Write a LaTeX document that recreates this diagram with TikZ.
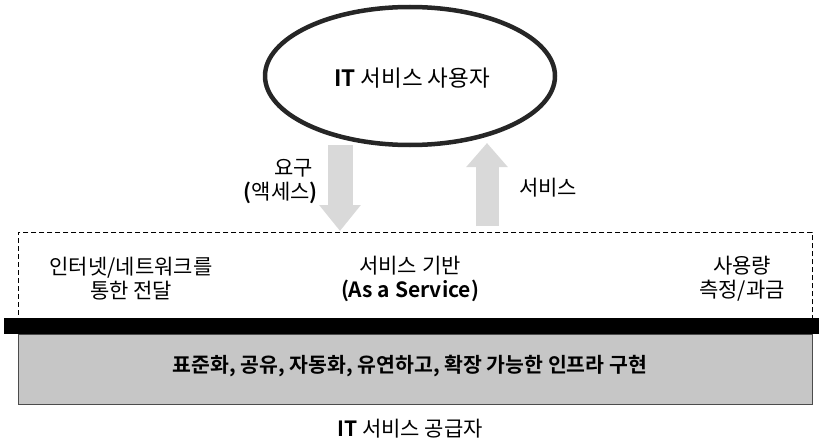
\documentclass[tikz,border=0pt]{standalone}
\usepackage{fontspec}
\setmainfont{Noto Sans CJK KR}[BoldFont={Noto Sans CJK KR Bold}]
\usetikzlibrary{arrows.meta,shapes.geometric}
\tikzset{
  txt/.style={inner sep=0pt, font=\fontsize{21}{24}\selectfont, align=center},
}
\begin{document}
\begin{tikzpicture}[x=1pt,y=-1pt]
\useasboundingbox (0,0) rectangle (819,444);
% user ellipse
\node[ellipse, draw=black!85, line width=4.5pt, minimum width=290pt, minimum height=138pt, inner sep=0pt] (user) at (410,76) {};
\node[txt, font=\fontsize{22.5}{26}\selectfont] (usertxt) at (412,78) {\textbf{IT} 서비스 사용자};
% dashed frame
\node[draw, line width=0.9pt, dash pattern=on 5pt off 3pt, minimum width=794pt, minimum height=86pt, inner sep=0pt, anchor=north west] (frame) at (18,232) {};
% black bar
\fill[black] (4,318) rectangle (819,334);
% grey infra box
\node[draw=black!70, line width=0.8pt, fill=gray!45, minimum width=794pt, minimum height=70pt, inner sep=0pt, anchor=north west] (infra) at (18,334) {};
\node[txt, font=\fontsize{20.5}{24}\selectfont\bfseries] (infratxt) at (410,366) {표준화, 공유, 자동화, 유연하고, 확장 가능한 인프라 구현};
% arrows
\coordinate (dtop) at (340,145);
\coordinate (dbot) at (340,231);
\coordinate (ubot) at (487,226);
\coordinate (utop) at (487,143);
\draw[gray!30, line width=25pt, -{Triangle[width=40pt,length=26pt]}] (dtop) -- (dbot);
\draw[gray!30, line width=23pt, -{Triangle[width=40pt,length=24pt]}] (ubot) -- (utop);
% arrow labels
\node[txt, anchor=east] (req) at (313,168) {요구};
\node[txt, anchor=east] (acc) at (318,193) {\textbf{(}액세스\textbf{)}};
\node[txt] (svc) at (548,188) {서비스};
% frame texts
\node[txt] (net) at (131,279) {인터넷/네트워크를\\통한 전달};
\node[txt] (base) at (410,279) {서비스 기반\\\textbf{(As a Service)}};
\node[txt] (meter) at (742,279) {사용량\\측정/과금};
% provider
\node[txt] (prov) at (410,429) {\textbf{IT} 서비스 공급자};
\end{tikzpicture}
\end{document}
